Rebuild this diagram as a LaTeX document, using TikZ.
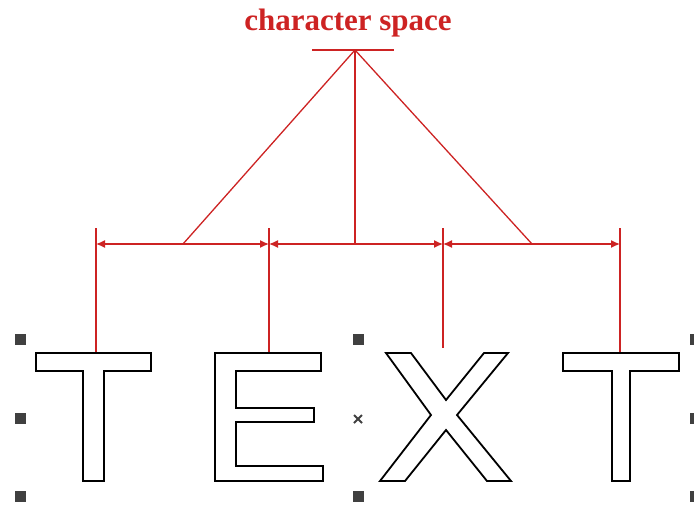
\documentclass[tikz,border=0pt]{standalone}
\usepackage{fontspec}
\setmainfont{Liberation Serif}
\usetikzlibrary{arrows.meta}
\definecolor{dimred}{RGB}{205,35,35}
\definecolor{handle}{RGB}{64,64,64}
\tikzset{
  dimline/.style={draw=dimred, line width=1.3pt},
  dimarrow/.style={dimline, {Latex[length=9pt,width=8pt]}-{Latex[length=9pt,width=8pt]}},
  glyph/.style={draw=black, line width=1.8pt, line join=miter, fill=white},
  handlebox/.style={fill=handle, minimum size=11pt, inner sep=0pt, draw=none},
  title/.style={text=dimred, font=\fontsize{31}{32}\selectfont\bfseries, inner sep=0pt, anchor=base}
}
\begin{document}
\begin{tikzpicture}[x=1pt,y=-1pt]
\useasboundingbox (0,0) rectangle (694,507);
% title
\node[title] (ttl) at (348,30) {character space};
% apex and crossbar
\coordinate (apex) at (355,50);
\coordinate (barL) at (312,50);
\coordinate (barR) at (394,50);
\draw[dimline] (barL) -- (barR);
% dimension line points
\coordinate (d1) at (96,244);
\coordinate (d2) at (269,244);
\coordinate (d3) at (443,244);
\coordinate (d4) at (620,244);
\coordinate (m1) at (183,244);
\coordinate (m2) at (355,244);
\coordinate (m3) at (532,244);
\draw[dimline] (apex) -- (m1);
\draw[dimline] (apex) -- (m2);
\draw[dimline] (apex) -- (m3);
% ticks
\coordinate (t1a) at (96,228); \coordinate (t1b) at (96,352);
\coordinate (t2a) at (269,228); \coordinate (t2b) at (269,352);
\coordinate (t3a) at (443,228); \coordinate (t3b) at (443,348);
\coordinate (t4a) at (620,228); \coordinate (t4b) at (620,352);
\draw[dimline] (t1a) -- (t1b);
\draw[dimline] (t2a) -- (t2b);
\draw[dimline] (t3a) -- (t3b);
\draw[dimline] (t4a) -- (t4b);
\draw[dimarrow] (d1) -- (d2);
\draw[dimarrow] (d2) -- (d3);
\draw[dimarrow] (d3) -- (d4);
% letters
% T
\draw[glyph] (36,353) -- (151,353) -- (151,371) -- (104,371) -- (104,481) -- (83,481) -- (83,371) -- (36,371) -- cycle;
% E
\draw[glyph] (215,353) -- (321,353) -- (321,371) -- (236,371) -- (236,408) -- (314,408) -- (314,422) -- (236,422) -- (236,466) -- (323,466) -- (323,481) -- (215,481) -- cycle;
% X
\draw[glyph] (386,353) -- (411,353) -- (446,400) -- (484,353) -- (508,353) -- (457,415) -- (511,481) -- (487,481) -- (446,430) -- (405,481) -- (380,481) -- (431,415) -- cycle;
% T
\draw[glyph] (563,353) -- (679,353) -- (679,371) -- (630,371) -- (630,481) -- (612,481) -- (612,371) -- (563,371) -- cycle;
% handles
\node[handlebox] (h1) at (20,339) {};
\node[handlebox] (h2) at (20,418) {};
\node[handlebox] (h3) at (20,496) {};
\node[handlebox] (h4) at (358,339) {};
\node[handlebox] (h5) at (358,496) {};
\node[handlebox] (h6) at (695,339) {};
\node[handlebox] (h7) at (695,418) {};
\node[handlebox] (h8) at (695,496) {};
% center mark
\coordinate (xc) at (358,419);
\draw[handle, line width=1.8pt] ([shift={(-4,-4)}]xc) -- ([shift={(4,4)}]xc);
\draw[handle, line width=1.8pt] ([shift={(-4,4)}]xc) -- ([shift={(4,-4)}]xc);
\end{tikzpicture}
\end{document}
